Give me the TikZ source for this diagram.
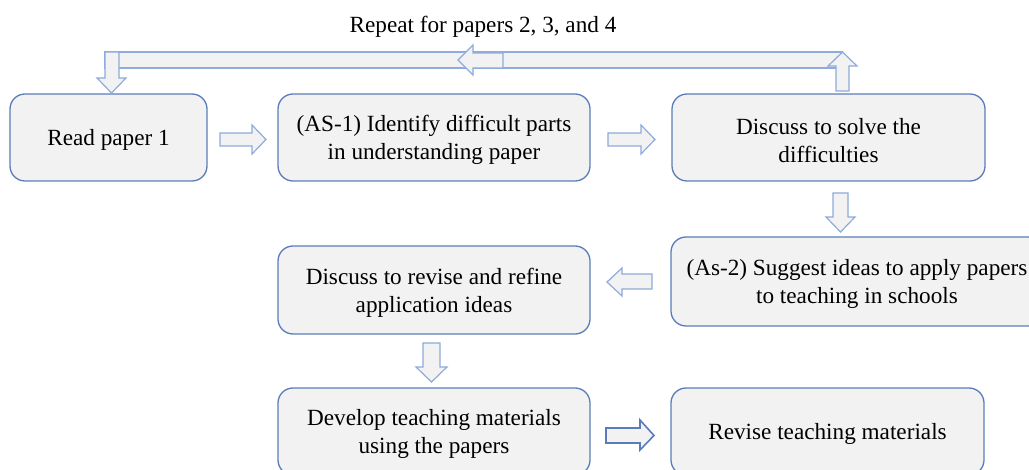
\documentclass[tikz,border=0pt]{standalone}
\usepackage{fontspec}
\setmainfont{Liberation Serif}
\definecolor{boxfill}{HTML}{F2F2F2}
\definecolor{boxline}{HTML}{5A7DBA}
\definecolor{arrline}{HTML}{8FAADC}
\definecolor{arrdark}{HTML}{5A7DBA}
\begin{document}
\begin{tikzpicture}[x=0.5pt,y=-0.5pt,
  stepbox/.style={draw=boxline,fill=boxfill,line width=0.65pt,rounded corners=7.5pt,inner sep=0pt},
  txt/.style={align=center,font=\fontsize{11.6pt}{14pt}\selectfont,inner sep=0pt},
  blk/.style={draw=arrline,fill=boxfill,line width=0.6pt,line join=miter},
  blkdark/.style={draw=arrdark,fill=boxfill,line width=0.8pt,line join=miter}]
\useasboundingbox (0,0) rectangle (1029,470);
\clip (0,0) rectangle (1029,470);
% boxes
\node[stepbox,minimum width=98.5pt,minimum height=43.5pt] (r1) at (108.5,137.5) {};
\node[stepbox,minimum width=156pt,minimum height=43.5pt] (as1) at (434,137.5) {};
\node[stepbox,minimum width=156.5pt,minimum height=43.5pt] (ds) at (828.5,137.5) {};
\node[stepbox,minimum width=186pt,minimum height=44.5pt] (as2) at (857,281.5) {};
\node[stepbox,minimum width=156pt,minimum height=44pt] (dr) at (434,290) {};
\node[stepbox,minimum width=156pt,minimum height=43.5pt] (dev) at (434,431.5) {};
\node[stepbox,minimum width=156.5pt,minimum height=43.5pt] (rev) at (827.5,431.5) {};
% texts
\node[txt] (tr1) at ([yshift=-1.3pt]r1.center) {Read paper 1};
\node[txt] (tas1) at ([yshift=-1.3pt]as1.center) {(AS-1) Identify difficult parts\\in understanding paper};
\node[txt] (tds) at ([yshift=-1.3pt]ds.center) {Discuss to solve the\\difficulties};
\node[txt] (tas2) at ([yshift=-1.3pt]as2.center) {(As-2) Suggest ideas to apply papers\\to teaching in schools};
\node[txt] (tdr) at ([yshift=-1.3pt]dr.center) {Discuss to revise and refine\\application ideas};
\node[txt] (tdev) at ([yshift=-1.3pt]dev.center) {Develop teaching materials\\using the papers};
\node[txt] (trev) at ([yshift=-1.3pt]rev.center) {Revise teaching materials};
% repeat label
\node[txt] (rep) at (483,26.5) {Repeat for papers 2, 3, and 4};
% top loop band
\draw[blk] (105,52) rectangle (842,68);
\draw[blk] (105,52) -- (119,52) -- (119,78) -- (126,78) -- (111.5,93) -- (97,78) -- (105,78) -- cycle;
\draw[blk] (836,91) -- (849,91) -- (849,66) -- (857,66) -- (842.5,52) -- (828,66) -- (836,66) -- cycle;
\draw[blk] (458,60) -- (473,45) -- (473,53) -- (503,53) -- (503,68) -- (473,68) -- (473,75) -- cycle;
% flow arrows
\draw[blk] (220,133) -- (252,133) -- (252,125) -- (266,139.5) -- (252,154) -- (252,146) -- (220,146) -- cycle;
\draw[blk] (608,133) -- (641,133) -- (641,125) -- (655,139.5) -- (641,154) -- (641,146) -- (608,146) -- cycle;
\draw[blk] (833,193) -- (848,193) -- (848,217) -- (855,217) -- (840.5,232) -- (826,217) -- (833,217) -- cycle;
\draw[blk] (652,274) -- (622,274) -- (622,268) -- (607,282) -- (622,296) -- (622,289) -- (652,289) -- cycle;
\draw[blk] (423,343) -- (440,343) -- (440,367) -- (447,367) -- (431.5,382) -- (416,367) -- (423,367) -- cycle;
\draw[blkdark] (606,428) -- (640,428) -- (640,420) -- (654,435.5) -- (640,450) -- (640,443) -- (606,443) -- cycle;
\end{tikzpicture}
\end{document}
